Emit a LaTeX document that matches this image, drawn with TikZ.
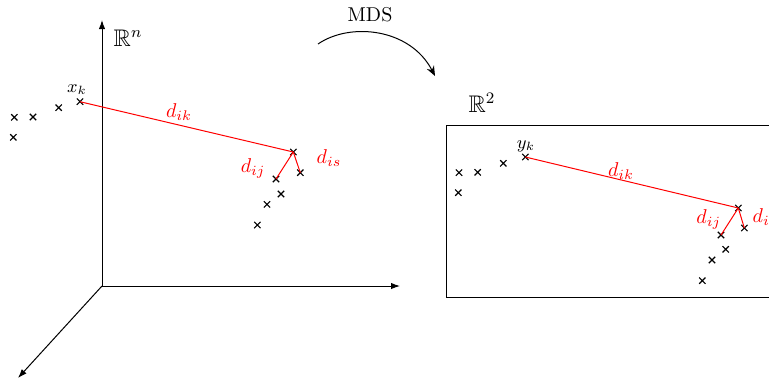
\documentclass[tikz,border=0pt]{standalone}
\usepackage{amssymb}
\usetikzlibrary{shapes.misc,arrows.meta}
\begin{document}
\begin{tikzpicture}[x=0.5pt,y=-0.5pt,
  pt/.style={draw,cross out,minimum size=2.6pt,inner sep=0pt,line width=0.55pt},
  axis/.style={-{Latex[length=4.5pt,width=3.2pt]},line width=0.5pt},
  dist/.style={red,line width=0.5pt},
  dlab/.style={red,inner sep=0pt},
  ptlab/.style={inner sep=0pt,font=\small},
  space/.style={inner sep=0pt,font=\large}]
\useasboundingbox (0,0) rectangle (769,381);
% axes
\coordinate (O) at (102,286);
\coordinate (Y) at (102,20);
\coordinate (X) at (400,286);
\coordinate (Z) at (18,378);
\draw[axis] (O) -- (Y);
\draw[axis] (O) -- (X);
\draw[axis] (O) -- (Z);
\node[space] (Rn) at (128,38) {$\mathbb{R}^n$};
% left points
\node[pt] (xk) at (80,101.7) {};
\node[pt] (l1) at (14.3,117.3) {};
\node[pt] (l2) at (33,117) {};
\node[pt] (l3) at (58.7,107.7) {};
\node[pt] (l4) at (13.3,137.3) {};
\node[pt] (xi) at (293.3,152) {};
\node[pt] (xs) at (300.3,172.7) {};
\node[pt] (xj) at (276,179) {};
\node[pt] (l5) at (281,194) {};
\node[pt] (l6) at (267,204.3) {};
\node[pt] (l7) at (257.3,225) {};
\node[ptlab] (xklab) at (77,90) {$x_k$};
\draw[dist] (xk.center) -- (xi.center);
\draw[dist] (xi.center) -- (xj.center);
\draw[dist] (xi.center) -- (xs.center);
\node[dlab] (dikL) at (179,112) {$d_{ik}$};
\node[dlab] (dijL) at (253,168) {$d_{ij}$};
\node[dlab] (disL) at (329,158) {$d_{is}$};
% MDS arrow
\coordinate (m1) at (318,44);
\coordinate (m2) at (435,76);
\draw[-{Stealth[length=5pt,width=4pt]},line width=0.5pt] (m1) .. controls (350,22) and (410,28) .. (m2);
\node[inner sep=0pt] (mds) at (370,15) {MDS};
% R^2 box
\node[space] (R2) at (482,103) {$\mathbb{R}^2$};
\draw[line width=0.5pt] (446.3,125.7) rectangle (780,297.7);
\node[pt] (yk) at (525.3,157) {};
\node[pt] (r1) at (459,172.7) {};
\node[pt] (r2) at (477.7,172.3) {};
\node[pt] (r3) at (503.3,163.3) {};
\node[pt] (r4) at (458.3,192.7) {};
\node[pt] (yi) at (738.3,208) {};
\node[pt] (ys) at (744.3,228) {};
\node[pt] (yj) at (721,235) {};
\node[pt] (r5) at (725.7,249.3) {};
\node[pt] (r6) at (712,260) {};
\node[pt] (r7) at (702.3,280.7) {};
\node[ptlab] (yklab) at (526,146) {$y_k$};
\draw[dist] (yk.center) -- (yi.center);
\draw[dist] (yi.center) -- (yj.center);
\draw[dist] (yi.center) -- (ys.center);
\node[dlab] (dikR) at (621,171) {$d_{ik}$};
\node[dlab] (dijR) at (708.7,219) {$d_{ij}$};
\node[dlab] (disR) at (765,217) {$d_{is}$};
\end{tikzpicture}
\end{document}
